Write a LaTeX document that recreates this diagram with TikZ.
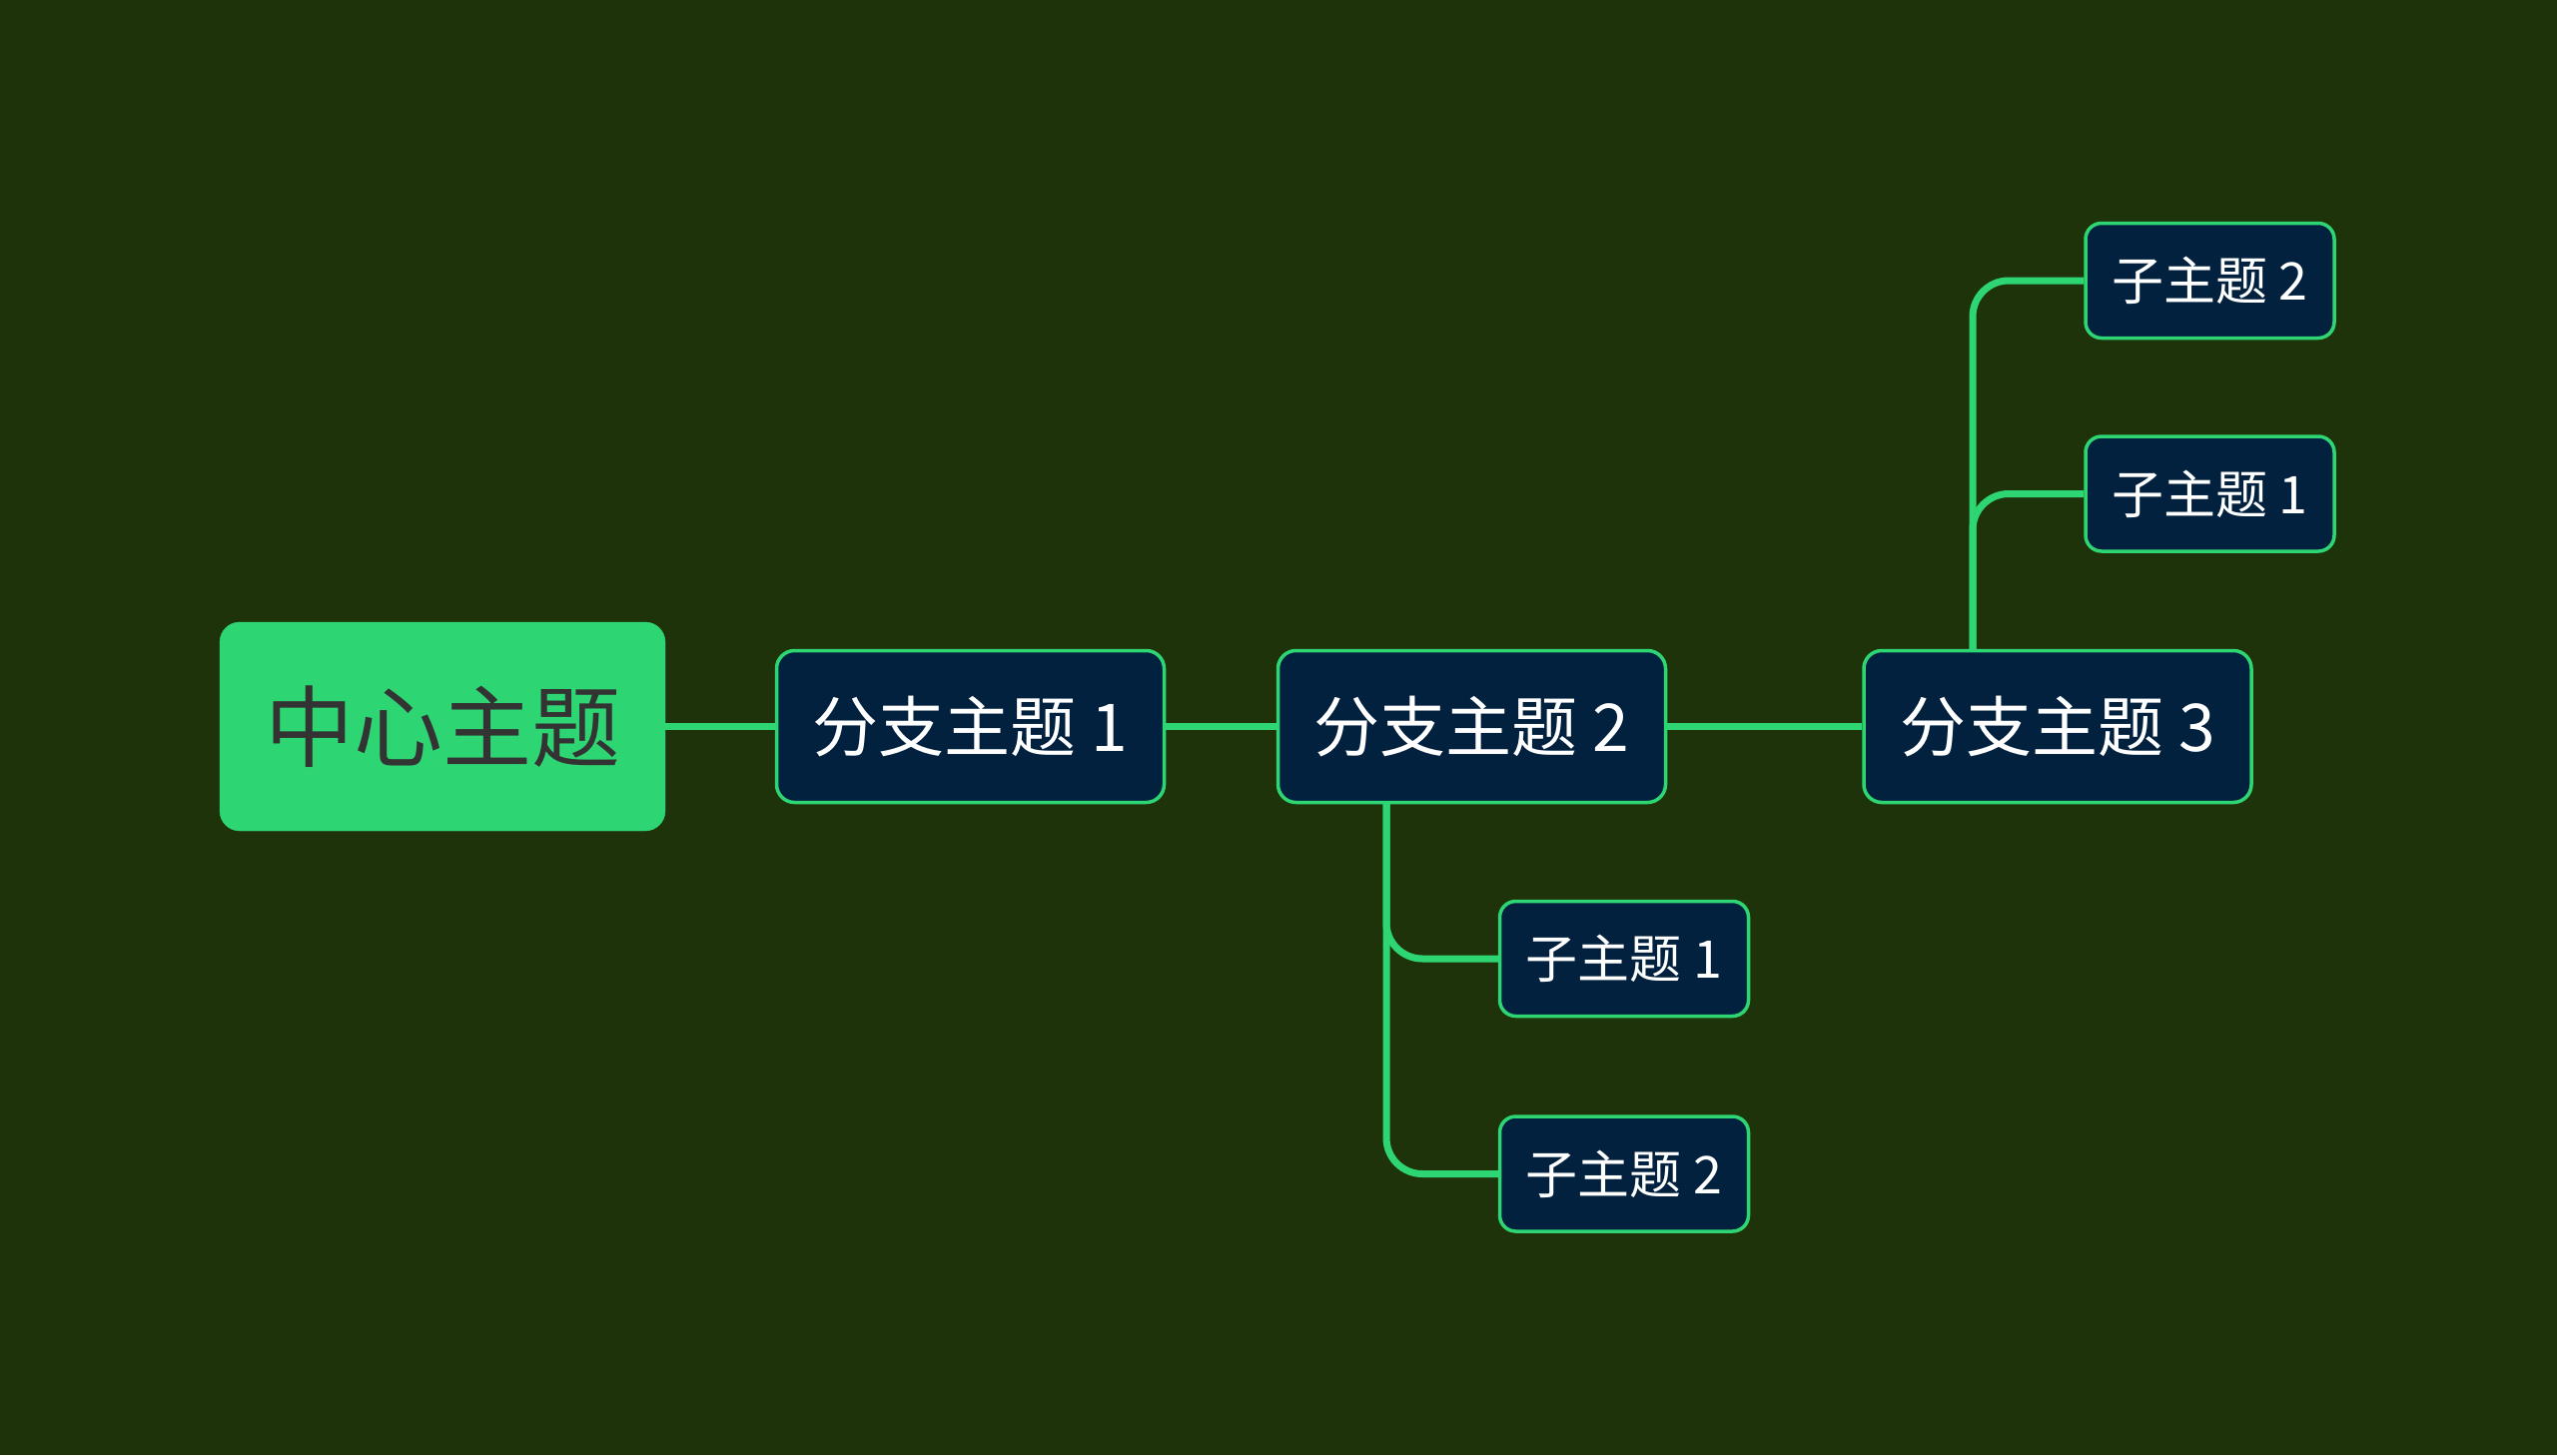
\documentclass[tikz,border=0pt]{standalone}
\usepackage{fontspec}
\setmainfont{Noto Sans CJK SC}
\definecolor{bgc}{HTML}{1F330A}
\definecolor{navy}{HTML}{01213F}
\definecolor{lgreen}{HTML}{2ED573}
\definecolor{dtext}{HTML}{333333}
\begin{document}
\begin{tikzpicture}[x=1pt,y=-1pt,
  central/.style={fill=lgreen,draw=lgreen,rounded corners=20pt,minimum width=446pt,minimum height=209pt,inner sep=0pt,text=dtext,font=\fontsize{89}{100}\selectfont},
  branch/.style={fill=navy,draw=lgreen,line width=3.5pt,rounded corners=18pt,minimum width=388pt,minimum height=152pt,inner sep=0pt,text=white,font=\fontsize{66}{78}\selectfont},
  subtopic/.style={fill=navy,draw=lgreen,line width=3.5pt,rounded corners=16pt,minimum width=249pt,minimum height=115pt,inner sep=0pt,text=white,font=\fontsize{52}{62}\selectfont},
  conn/.style={draw=lgreen,line width=7pt,rounded corners=36pt}]
\fill[bgc] (0,0) rectangle (2560,1457);
\useasboundingbox (0,0) rectangle (2560,1457);
\coordinate (d2) at (1388,805);
\coordinate (d3) at (1975,650);
\node[central] (c) at (443,727.5) {中心主题};
\node[branch] (b1) at (971.5,727.5) {分支主题 1};
\node[branch] (b2) at (1473.5,727.5) {分支主题 2};
\node[branch] (b3) at (2060,727.5) {分支主题 3};
\node[subtopic] (s21) at (1626,960) {子主题 1};
\node[subtopic] (s22) at (1626,1175.5) {子主题 2};
\node[subtopic] (s32) at (2212.5,281) {子主题 2};
\node[subtopic] (s31) at (2212.5,494.5) {子主题 1};
\draw[conn] (c.east) -- (b1.west);
\draw[conn] (b1.east) -- (b2.west);
\draw[conn] (b2.east) -- (b3.west);
\draw[conn] (d2) |- (s21.west);
\draw[conn] (d2) |- (s22.west);
\draw[conn] (d3) |- (s31.west);
\draw[conn] (d3) |- (s32.west);
\end{tikzpicture}
\end{document}
